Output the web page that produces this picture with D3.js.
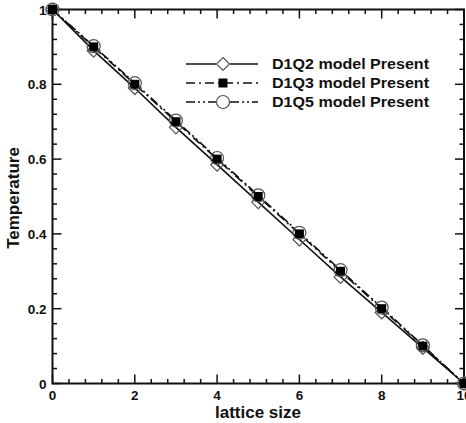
<!DOCTYPE html>
<html><head><meta charset="utf-8">
<script src="https://cdn.jsdelivr.net/npm/d3@7"></script>
<style>body{margin:0;background:#fff}svg{display:block}</style>
</head><body>
<svg id="c" width="466" height="423"></svg>
<script>
const xs = [0,1,2,3,4,5,6,7,8,9,10];
const d1q2 = [1,0.89,0.79,0.685,0.585,0.485,0.385,0.285,0.19,0.095,0];
const d1q3 = [1,0.9,0.8,0.7,0.6,0.5,0.4,0.3,0.2,0.1,0];
const d1q5 = [1,0.902,0.803,0.703,0.603,0.503,0.403,0.303,0.203,0.102,0];
const seriesNames = ["D1Q2 model Present","D1Q3 model Present","D1Q5 model Present"];
const xTicks = [0,2,4,6,8,10];
const yTicks = [0,0.2,0.4,0.6,0.8,1];
const yTickLabels = ["0","0.2","0.4","0.6","0.8","1"];
const xTickLabels = ["0","2","4","6","8","10"];

const svg = d3.select("#c");
const L=52.5, R=464, T=9.5, B=383.5;
const x = d3.scaleLinear().domain([0,10]).range([L,R]);
const y = d3.scaleLinear().domain([0,1]).range([B,T]);
const font = "'Liberation Sans', Arial, sans-serif";

// frame
svg.append("rect").attr("x",L).attr("y",T).attr("width",R-L).attr("height",B-T)
  .attr("fill","none").attr("stroke","#111").attr("stroke-width",2);

// ticks inward
const xMinor = d3.range(0,10.001,0.4).filter(v=>!xTicks.some(t=>Math.abs(t-v)<1e-6));
const yMinor = d3.range(0,1.0001,0.04).filter(v=>!yTicks.some(t=>Math.abs(t-v)<1e-6));
const tg = svg.append("g").attr("stroke","#111").attr("stroke-width",1.5);
function xt(v,len){ tg.append("line").attr("x1",x(v)).attr("x2",x(v)).attr("y1",B).attr("y2",B-len);
  tg.append("line").attr("x1",x(v)).attr("x2",x(v)).attr("y1",T).attr("y2",T+len);}
function yt(v,len){ tg.append("line").attr("y1",y(v)).attr("y2",y(v)).attr("x1",L).attr("x2",L+len);
  tg.append("line").attr("y1",y(v)).attr("y2",y(v)).attr("x1",R).attr("x2",R-len);}
xTicks.forEach(v=>xt(v,9)); xMinor.forEach(v=>xt(v,4.5));
yTicks.forEach(v=>yt(v,9)); yMinor.forEach(v=>yt(v,4.5));

// tick labels
svg.append("g").selectAll("text").data(xTicks).join("text")
  .attr("x",d=>x(d)).attr("y",B+16).attr("text-anchor","middle")
  .attr("font-family",font).attr("font-weight","bold").attr("font-size",13.5).attr("fill","#111")
  .text((d,i)=>xTickLabels[i]);
svg.append("g").selectAll("text").data(yTicks).join("text")
  .attr("x",L-6).attr("y",d=>y(d)+5).attr("text-anchor","end")
  .attr("font-family",font).attr("font-weight","bold").attr("font-size",13.5).attr("fill","#111")
  .text((d,i)=>yTickLabels[i]);

// axis titles
svg.append("text").attr("x",258).attr("y",418).attr("text-anchor","middle")
  .attr("font-family",font).attr("font-weight","bold").attr("font-size",17).attr("fill","#111")
  .attr("textLength",86).attr("lengthAdjust","spacingAndGlyphs").text("lattice size");
svg.append("text").attr("transform",`translate(19,198) rotate(-90)`).attr("text-anchor","middle")
  .attr("font-family",font).attr("font-weight","bold").attr("font-size",17).attr("fill","#111").text("Temperature");

const line = d3.line().x((d,i)=>x(xs[i])).y(d=>y(d));
const styles = [
  {data:d1q2, dash:null, marker:"diamond"},
  {data:d1q3, dash:"9,4,2,4", marker:"square"},
  {data:d1q5, dash:"9,3,2,3,2,3", marker:"circle"}
];
const pg = svg.append("g");
function drawMarker(g,type,cx,cy){
  if(type==="diamond"){
    g.append("path").attr("d",`M${cx},${cy-6.5}L${cx+6.5},${cy}L${cx},${cy+6.5}L${cx-6.5},${cy}Z`)
     .attr("fill","none").attr("stroke","#555").attr("stroke-width",1.2);
  } else if(type==="square"){
    g.append("rect").attr("x",cx-4.5).attr("y",cy-4.5).attr("width",9).attr("height",9).attr("fill","#000");
  } else {
    g.append("circle").attr("cx",cx).attr("cy",cy).attr("r",6.5)
     .attr("fill","none").attr("stroke","#555").attr("stroke-width",1.2);
  }
}
styles.forEach(s=>{
  pg.append("path").datum(s.data).attr("d",line).attr("fill","none")
    .attr("stroke","#111").attr("stroke-width",1.6).attr("stroke-dasharray",s.dash);
});
styles.forEach(s=>{
  s.data.forEach((v,i)=>drawMarker(pg,s.marker,x(xs[i]),y(v)));
});

// legend
const lg = svg.append("g");
seriesNames.forEach((n,i)=>{
  const yy = 64 + i*19;
  lg.append("line").attr("x1",186).attr("x2",258).attr("y1",yy).attr("y2",yy)
    .attr("stroke","#111").attr("stroke-width",1.6).attr("stroke-dasharray",styles[i].dash);
  const m = styles[i].marker;
  if(m!=="square") lg.append("rect").attr("x",216).attr("y",yy-7).attr("width",14).attr("height",14).attr("fill","#fff");
  drawMarker(lg,m,223,yy);
  lg.append("text").attr("x",272).attr("y",yy+5).attr("font-family",font).attr("font-weight","bold")
    .attr("font-size",14.5).attr("fill","#111").attr("textLength",157).attr("lengthAdjust","spacingAndGlyphs").text(n);
});
</script>
</body></html>
